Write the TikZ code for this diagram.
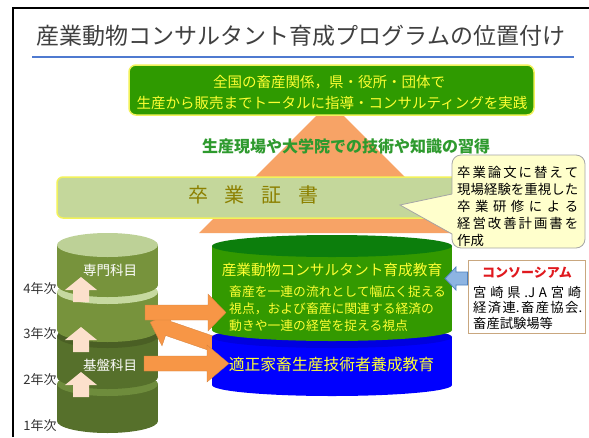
\documentclass[tikz,border=0pt]{standalone}
\usepackage{fontspec}
\setmainfont{Noto Sans CJK JP}
\newcommand\setfs[1]{\fontsize{#1}{#1}\selectfont}
\definecolor{titlegray}{HTML}{404040}
\definecolor{lineblue}{HTML}{4F7AD0}
\definecolor{boxgreen}{HTML}{2F9A00}
\definecolor{boxedge}{HTML}{F2F25A}
\definecolor{txtyellow}{HTML}{FFFF33}
\definecolor{skillgreen}{HTML}{2E9A2E}
\definecolor{triorange}{HTML}{F7A366}
\definecolor{bandfill}{HTML}{C4D79B}
\definecolor{bandtext}{HTML}{8C8000}
\definecolor{callfill}{HTML}{FFFFCC}
\definecolor{calledge}{HTML}{A6A6A6}
\definecolor{cylA}{HTML}{77933C}
\definecolor{cylAtop}{HTML}{BDD197}
\definecolor{cylAring}{HTML}{C6D9A0}
\definecolor{cylB}{HTML}{56702B}
\definecolor{cylBdark}{HTML}{4A5F24}
\definecolor{cylBring}{HTML}{6E8C3C}
\definecolor{peach}{HTML}{FCE0CC}
\definecolor{arrorange}{HTML}{F79646}
\definecolor{cgreen}{HTML}{339900}
\definecolor{cgreentop}{HTML}{0C7E0C}
\definecolor{cblue}{HTML}{0000FF}
\definecolor{cbluetop}{HTML}{0000E0}
\definecolor{arrblue}{HTML}{8DB4E2}
\definecolor{arrblueedge}{HTML}{4F81BD}
\definecolor{conedge}{HTML}{C9A77F}
\definecolor{conred}{HTML}{E0191E}
\tikzset{
  cyltext/.style={text=white, font=\setfs{13.5}},
  yearlbl/.style={text=black!80, font=\setfs{13}},
  ylw/.style={text=txtyellow},
  notetext/.style={anchor=west, inner sep=0pt, font=\setfs{13.4}},
  context/.style={anchor=west, inner sep=0pt, font=\setfs{13.3}},
  arrowbody/.style={fill=arrorange, draw=arrorange!85!black, line width=0.3pt},
  pics/barrow/.style n args={2}{code={\filldraw[arrowbody] (0,-7.5) -- ({#1-#2},-7.5) -- ({#1-#2},-18.5) -- (#1,0) -- ({#1-#2},18.5) -- ({#1-#2},7.5) -- (0,7.5) -- cycle;}},
  pics/uparr/.style={code={\fill[peach] (0,0) -- (16,13) -- (8,13) -- (8,25) -- (-8,25) -- (-8,13) -- (-16,13) -- cycle;}},
}
\begin{document}
\begin{tikzpicture}[x=1pt,y=-1pt]
\useasboundingbox (0,0) rectangle (589,437);
\fill[white] (0,0) rectangle (589,437);
\draw[line width=2pt] (13,437) -- (13,8) -- (589,8);

% title
\node[text=titlegray, font=\setfs{23}, inner sep=0pt] (title) at (301,36) {産業動物コンサルタント育成プログラムの位置付け};
\draw[lineblue, line width=1.5pt] (32,57) -- (574,57);

% orange triangle
\fill[triorange] (330,102) -- (199,233) -- (461,233) -- cycle;

% top goal box
\node[draw=boxedge, fill=boxgreen, line width=1.5pt, rounded corners=7pt, minimum width=405pt, minimum height=50pt, inner sep=0pt] (goal) at (331.5,90) {};
\node[ylw, font=\setfs{14.5}, inner sep=0pt] (goal1) at (329,82) {全国の畜産関係，県・役所・団体で};
\node[ylw, font=\setfs{14.5}, inner sep=0pt] (goal2) at (332,103) {生産から販売までトータルに指導・コンサルティングを実践};

% skill text
\node[text=skillgreen, font=\bfseries\setfs{16}, inner sep=0pt] (skill) at (346,146) {生産現場や大学院での技術や知識の習得};

% diploma band
\node[draw=boxedge, fill=bandfill, line width=1.5pt, rounded corners=6pt, minimum width=443pt, minimum height=41pt, inner sep=0pt] (band) at (278.5,197.5) {};
\node[text=bandtext, font=\setfs{20}, inner sep=0pt] (bandtxt) at (253,195) {\hbox to 130pt{卒\hfil 業\hfil 証\hfil 書}};

% callout
\node[draw=calledge, fill=callfill, line width=0.8pt, rounded corners=9pt, minimum width=133pt, minimum height=93pt, inner sep=0pt] (note) at (518.5,201.5) {};
\fill[callfill] (453,194) -- (400,205) -- (453,234) -- cycle;
\draw[calledge, line width=0.8pt] (452,194) -- (400,205) -- (452,234);
\node[notetext] (n1) at (457,172) {\hbox to 121pt{卒\hfil 業\hfil 論\hfil 文\hfil に\hfil 替\hfil え\hfil て}};
\node[notetext] (n2) at (457,189) {\hbox to 121pt{現\hfil 場\hfil 経\hfil 験\hfil を\hfil 重\hfil 視\hfil し\hfil た}};
\node[notetext] (n3) at (457,206) {\hbox to 121pt{卒\hfil 業\hfil 研\hfil 修\hfil に\hfil よ\hfil る}};
\node[notetext] (n4) at (457,223) {\hbox to 121pt{経\hfil 営\hfil 改\hfil 善\hfil 計\hfil 画\hfil 書\hfil を}};
\node[notetext] (n5) at (457,240) {作成};

% left stacked cylinder
\fill[cylB] (57,384) rectangle (158,421);
\fill[cylB] (107.5,421) ellipse [x radius=50.5pt, y radius=12pt];
\fill[cylBring] (107.5,384) ellipse [x radius=50.5pt, y radius=12pt];
\fill[cylB] (57,336) rectangle (158,377);
\fill[cylB] (107.5,377) ellipse [x radius=50.5pt, y radius=12pt];
\fill[cylBdark] (107.5,336) ellipse [x radius=50.5pt, y radius=12pt];
\fill[cylA] (57,292) rectangle (158,330);
\fill[cylA] (107.5,330) ellipse [x radius=50.5pt, y radius=12pt];
\fill[cylAring] (107.5,292) ellipse [x radius=50.5pt, y radius=12pt];
\fill[cylA] (57,245) rectangle (158,285);
\fill[cylA] (107.5,285) ellipse [x radius=50.5pt, y radius=12pt];
\fill[cylAtop] (107.5,245) ellipse [x radius=50.5pt, y radius=12pt];
\coordinate (leftcyl) at (107.5,330);

% up arrows
\pic at (81,277) {uparr};
\pic at (81,327) {uparr};
\pic at (81,372) {uparr};

% diagonal arrow (behind middle cylinders)
\coordinate (a2tail) at (238,352.5);
\pic[rotate=161] at (a2tail) {barrow={93}{19}};

% blue cylinder
\fill[cblue] (212,337) rectangle (452,385);
\fill[cblue] (332,385) ellipse [x radius=120pt, y radius=11pt];
\fill[cbluetop] (332,337) ellipse [x radius=120pt, y radius=11pt];
% green cylinder
\fill[cgreen] (212,246) rectangle (452,330);
\fill[cgreen] (332,330) ellipse [x radius=120pt, y radius=11pt];
\fill[cgreentop] (332,246) ellipse [x radius=120pt, y radius=11pt];
\coordinate (greencyl) at (332,290);
\coordinate (bluecyl) at (332,365);

% right arrows
\coordinate (a1tail) at (145,312.5);
\coordinate (a3tail) at (144,363.5);
\pic at (a1tail) {barrow={81}{18}};
\pic at (a3tail) {barrow={85}{22}};

% cylinder texts
\node[cyltext] (senmon) at (110,270) {専門科目};
\node[cyltext] (kiban) at (110,365) {基盤科目};
\node[ylw, font=\setfs{14.7}, inner sep=0pt] (cons1) at (332,270) {産業動物コンサルタント育成教育};
\node[ylw, anchor=west, inner sep=0pt, font=\setfs{12.8}] (c1) at (229,292) {畜産を一連の流れとして幅広く捉える};
\node[ylw, anchor=west, inner sep=0pt, font=\setfs{12.8}] (c2) at (229,309) {視点，および畜産に関連する経済の};
\node[ylw, anchor=west, inner sep=0pt, font=\setfs{12.8}] (c3) at (229,326) {動きや一連の経営を捉える視点};
\node[ylw, font=\setfs{15.8}, inner sep=0pt] (tech) at (331.5,365) {適正家畜生産技術者養成教育};

% year labels
\node[yearlbl] (y4) at (40,289) {4年次};
\node[yearlbl] (y3) at (40,334) {3年次};
\node[yearlbl] (y2) at (40,380) {2年次};
\node[yearlbl] (y1) at (40,426) {1年次};

% consortium box
\node[draw=conedge, fill=white, line width=0.8pt, minimum width=117pt, minimum height=73pt, inner sep=0pt] (cons) at (526.5,296.5) {};
\node[text=conred, font=\bfseries\setfs{13}, inner sep=0pt] (consT) at (527,273) {コンソーシアム};
\node[context] (k1) at (473,292) {\hbox to 108pt{宮\hfil 崎\hfil 県\hfil .J\hfil A\hfil 宮\hfil 崎}};
\node[context] (k2) at (473,307) {\hbox to 109pt{経\hfil 済\hfil 連.\hfil 畜\hfil 産\hfil 協\hfil 会.}};
\node[context] (k3) at (473,323) {畜産試験場等};

% blue arrow from consortium to green cylinder
\filldraw[fill=arrblue, draw=arrblueedge, line width=0.8pt] (cons.west |- 0,272) -- (456,272) -- (456,267) -- (445,278.5) -- (456,290) -- (456,285) -- (cons.west |- 0,285) -- cycle;
\end{tikzpicture}
\end{document}
